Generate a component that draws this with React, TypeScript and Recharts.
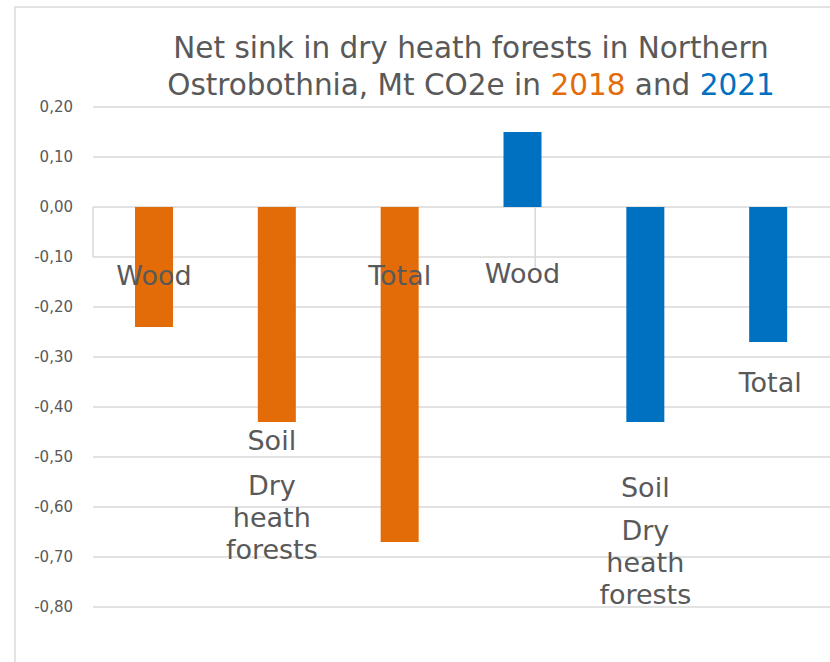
import React from 'react';
import {
  BarChart,
  Bar,
  Cell,
  XAxis,
  YAxis,
  CartesianGrid,
  ReferenceLine,
  LabelList
} from 'recharts';

// Chart data
const CATEGORIES = ['Wood', 'Soil', 'Total', 'Wood', 'Soil', 'Total'];
const YEARS = ['2018', '2018', '2018', '2021', '2021', '2021'];
const VALUES = [-0.24, -0.43, -0.67, 0.15, -0.43, -0.27];
const GROUP_LABEL = ['Dry', 'heath', 'forests'];
const Y_TICKS = [0.2, 0.1, 0, -0.1, -0.2, -0.3, -0.4, -0.5, -0.6, -0.7, -0.8];

// Colours and layout
const YEAR_COLORS: Record<string, string> = { '2018': '#E36C09', '2021': '#0070C0' };
const TEXT_COLOR = '#595959';
const GRID_COLOR = '#d9d9d9';
const FONT = '"DejaVu Sans", Verdana, sans-serif';
// pixel centre of each category label, and of the first line of the group label
const LABEL_Y = [275, 440, 275, 273, 487, 382];
const LABEL_DX = [0, -5, 0, 0, 0, 2];
const GROUP_Y = [0, 485, 0, 0, 530, 0];
const LINE_HEIGHT = 32;
const LABEL_SIZE = 27;

const data = CATEGORIES.map((name, i) => ({
  name: `${name}-${YEARS[i]}`,
  label: name,
  year: YEARS[i],
  value: VALUES[i]
}));

const renderLabel = (props: any) => {
  const { x, width, index } = props;
  const cx = x + width / 2 + LABEL_DX[index];
  const group = data[index].label === 'Soil';
  return (
    <g>
      <text
        x={cx}
        y={LABEL_Y[index]}
        textAnchor="middle"
        dominantBaseline="central"
        fill={TEXT_COLOR}
        fontSize={LABEL_SIZE}
        fontFamily={FONT}
      >
        {data[index].label}
      </text>
      {group &&
        GROUP_LABEL.map((line, j) => (
          <text
            key={line}
            x={cx}
            y={GROUP_Y[index] + j * LINE_HEIGHT}
            textAnchor="middle"
            dominantBaseline="central"
            fill={TEXT_COLOR}
            fontSize={LABEL_SIZE}
            fontFamily={FONT}
          >
            {line}
          </text>
        ))}
    </g>
  );
};

export default function App() {
  return (
    <div
      style={{
        position: 'absolute',
        left: 0,
        top: 0,
        width: 830,
        height: 662,
        background: '#fff',
        fontFamily: FONT
      }}
    >
      {/* frame */}
      <div
        style={{
          position: 'absolute',
          left: 14,
          top: 6,
          width: 816,
          height: 654,
          borderLeft: '2px solid #e3e3e3',
          borderTop: '2px solid #e3e3e3'
        }}
      />
      {/* title */}
      <div
        style={{
          position: 'absolute',
          left: 100,
          top: 30,
          width: 742,
          textAlign: 'center',
          fontSize: 29.5,
          lineHeight: '37px',
          color: TEXT_COLOR
        }}
      >
        Net sink in dry heath forests in Northern
        <br />
        Ostrobothnia, Mt CO2e in <span style={{ color: YEAR_COLORS['2018'] }}>2018</span> and{' '}
        <span style={{ color: YEAR_COLORS['2021'] }}>2021</span>
      </div>
      <div style={{ position: 'absolute', left: 0, top: 0 }}>
        <BarChart
          width={830}
          height={662}
          data={data}
          margin={{ top: 107, right: 0, left: 0, bottom: 55 }}
        >
          <CartesianGrid vertical={false} stroke={GRID_COLOR} strokeWidth={1.5} />
          <XAxis dataKey="name" hide />
          <XAxis xAxisId="grp" type="number" domain={[0, 6]} hide />
          <YAxis
            domain={[-0.8, 0.2]}
            ticks={Y_TICKS}
            interval={0}
            width={93}
            axisLine={false}
            tickLine={false}
            tickMargin={14}
            tickFormatter={(v: number) => v.toFixed(2).replace('.', ',')}
            tick={{ fontSize: 15, fill: TEXT_COLOR, fontFamily: FONT }}
          />
          <ReferenceLine
            xAxisId="grp"
            segment={[{ x: 0, y: 0 }, { x: 0, y: -0.1 }]}
            stroke={GRID_COLOR}
            strokeWidth={1.5}
          />
          <ReferenceLine
            xAxisId="grp"
            segment={[{ x: 3, y: 0 }, { x: 3, y: -0.122 }]}
            stroke={GRID_COLOR}
            strokeWidth={1.5}
          />
          <Bar dataKey="value" barSize={38} isAnimationActive={false}>
            {data.map((d, i) => (
              <Cell key={`cell-${i}`} fill={YEAR_COLORS[d.year]} />
            ))}
            <LabelList dataKey="value" content={renderLabel} />
          </Bar>
        </BarChart>
      </div>
    </div>
  );
}
